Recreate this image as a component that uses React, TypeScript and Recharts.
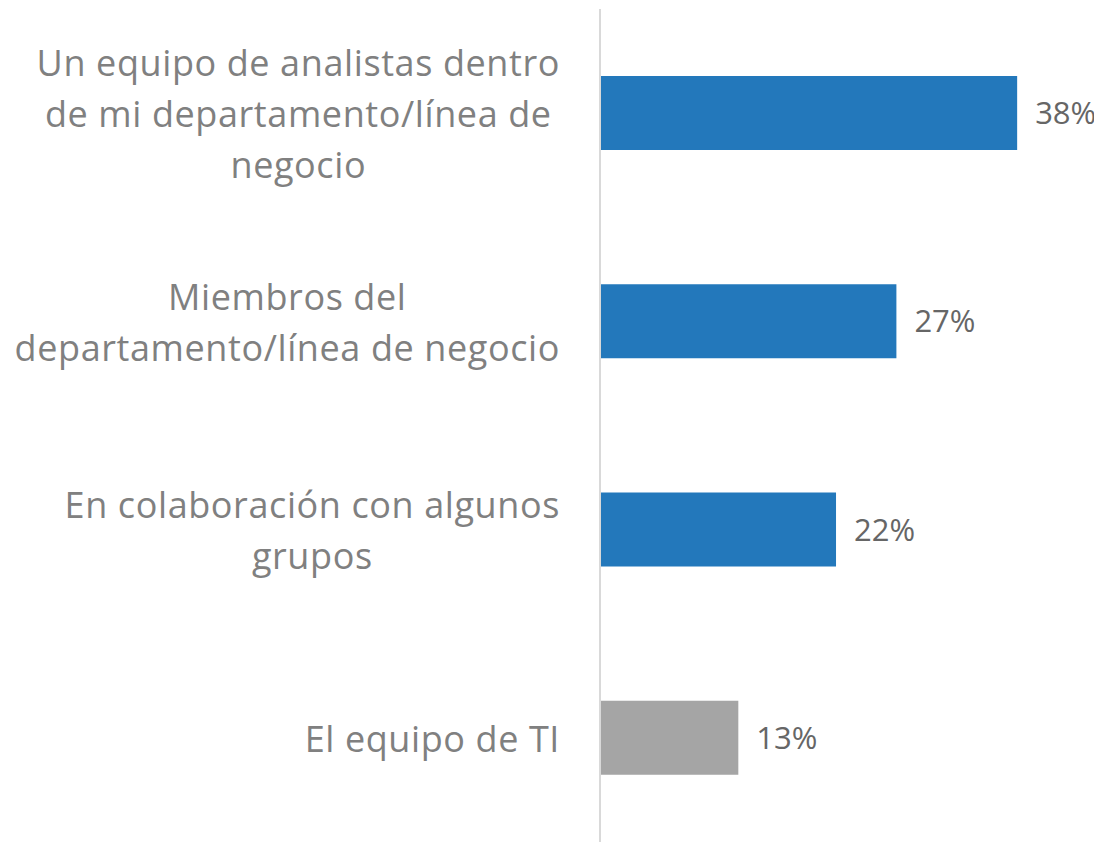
import { Bar, BarChart, Cell, LabelList, XAxis, YAxis } from 'recharts';

const categoryLines: string[][] = [
  ['Un equipo de analistas dentro', 'de mi departamento/línea de', 'negocio'],
  ['Miembros del', 'departamento/línea de negocio'],
  ['En colaboración con algunos', 'grupos'],
  ['El equipo de TI'],
];
const shares = [38, 27, 21.5, 12.6];
const barColors = ['#2378bb', '#2378bb', '#2378bb', '#a5a5a5'];

const data = categoryLines.map((lines, i) => ({
  name: lines.join(' '),
  share: shares[i],
}));

const FONT = '"Open Sans", sans-serif';
const LABEL_SIZE = 36;
const LETTER_SPACING = 0.6;
const LINE_HEIGHT = 51;

let measureCtx: CanvasRenderingContext2D | null = null;
function textWidth(s: string) {
  if (!measureCtx) measureCtx = document.createElement('canvas').getContext('2d');
  if (!measureCtx) return s.length * LABEL_SIZE * 0.5;
  measureCtx.font = `${LABEL_SIZE}px ${FONT}`;
  return measureCtx.measureText(s).width + s.length * LETTER_SPACING;
}

function CategoryTick(props: any) {
  const { x, y, index } = props;
  const lines = categoryLines[index] ?? [];
  const widest = Math.max(...lines.map(textWidth));
  const cx = x - widest / 2;
  const top = y - ((lines.length - 1) * LINE_HEIGHT) / 2;
  return (
    <text
      x={cx}
      y={top}
      textAnchor="middle"
      dominantBaseline="central"
      fontFamily={FONT}
      fontSize={LABEL_SIZE}
      letterSpacing={LETTER_SPACING}
      fill="#808080"
    >
      {lines.map((line, i) => (
        <tspan key={i} x={cx} y={top + i * LINE_HEIGHT}>
          {line}
        </tspan>
      ))}
    </text>
  );
}

export default function App() {
  return (
    <BarChart
      width={1094}
      height={834}
      data={data}
      layout="vertical"
      margin={{ top: 1, right: 8, bottom: 0, left: 0 }}
    >
      <XAxis type="number" domain={[0, 45]} hide />
      <YAxis
        type="category"
        dataKey="name"
        width={592}
        tickLine={false}
        tickSize={0}
        tickMargin={40}
        axisLine={{ stroke: '#d9d9d9', strokeWidth: 2 }}
        tick={<CategoryTick />}
        interval={0}
      />
      <Bar dataKey="share" barSize={74} isAnimationActive={false}>
        {data.map((_, i) => (
          <Cell key={i} fill={barColors[i]} />
        ))}
        <LabelList
          dataKey="share"
          position="right"
          offset={18}
          formatter={(v: any) => `${Math.round(Number(v))}%`}
          style={{ fontFamily: FONT, fontSize: 31, fill: '#666666' }}
        />
      </Bar>
    </BarChart>
  );
}
